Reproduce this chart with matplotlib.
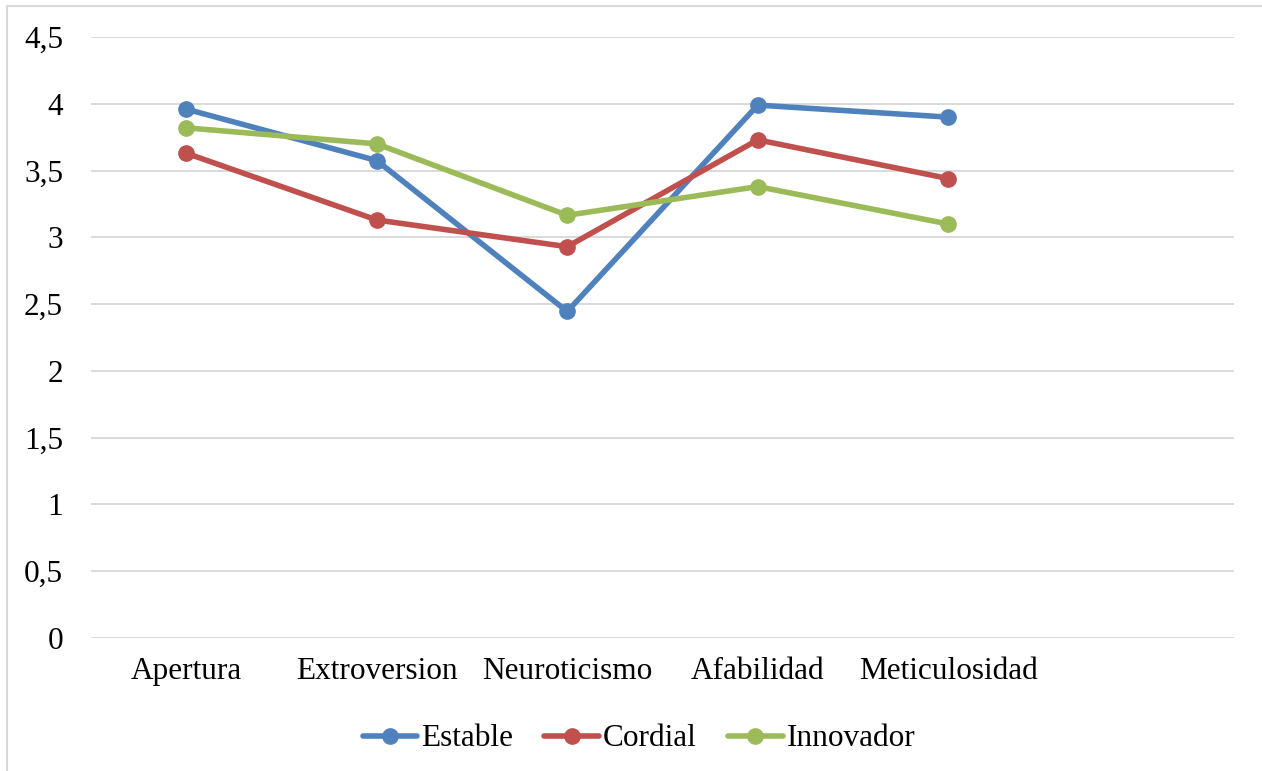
"""Perfil de personalidad por tipo: linea con marcadores, estilo Excel."""

import matplotlib.pyplot as plt
from matplotlib.patches import Rectangle
from matplotlib.ticker import FuncFormatter, MultipleLocator

# Data
categories = ["Apertura", "Extroversion", "Neuroticismo", "Afabilidad", "Meticulosidad"]
estable = [3.96, 3.575, 2.445, 3.99, 3.90]
cordial = [3.63, 3.13, 2.93, 3.73, 3.44]
innovador = [3.82, 3.70, 3.165, 3.38, 3.10]

series_names = ["Estable", "Cordial", "Innovador"]
colors = ["#4F81BD", "#C0504D", "#9BBB59"]

plt.rcParams["font.family"] = ["Liberation Serif", "DejaVu Serif"]
FONT_SIZE = 22.5

fig = plt.figure(figsize=(12.62, 7.71), dpi=100)
ax = fig.add_axes([91 / 1262, 1 - 638 / 771, (1234 - 91) / 1262, (638 - 37) / 771])

x = list(range(len(categories)))
for name, vals, c in zip(series_names, [estable, cordial, innovador], colors):
    ax.plot(x, vals, color=c, lw=4.0, marker="o", ms=11,
            solid_capstyle="round", label=name, zorder=3)

# Excel leaves room for a sixth (empty) category slot on the right
ax.set_xlim(-0.5, 5.5)
ax.set_ylim(0, 4.5)
ax.set_xticks(x)
ax.set_xticklabels(categories, fontsize=FONT_SIZE)
ax.yaxis.set_major_locator(MultipleLocator(0.5))
ax.yaxis.set_major_formatter(FuncFormatter(lambda v, _: f"{v:g}".replace(".", ",")))
ax.tick_params(axis="y", labelsize=FONT_SIZE, length=0, pad=20)
ax.tick_params(axis="x", length=0, pad=14)

ax.grid(axis="y", color="#D9D9D9", lw=1.4)
ax.set_axisbelow(True)
for side in ["top", "right", "left", "bottom"]:
    ax.spines[side].set_visible(False)

leg = fig.legend(loc="center", bbox_to_anchor=(639 / 1262, 1 - 739 / 771),
                 ncol=3, frameon=False, fontsize=FONT_SIZE,
                 handlelength=1.75, handletextpad=0.12, columnspacing=1.0,
                 borderaxespad=0)

# light chart-area border (runs off the right and bottom edges)
fig.patches.append(Rectangle((7 / 1262, -0.1), 1.2, 1.1 - 6 / 771,
                             transform=fig.transFigure, fill=False,
                             edgecolor="#D9D9D9", lw=1.5))

fig.savefig("out.png", dpi=100)
